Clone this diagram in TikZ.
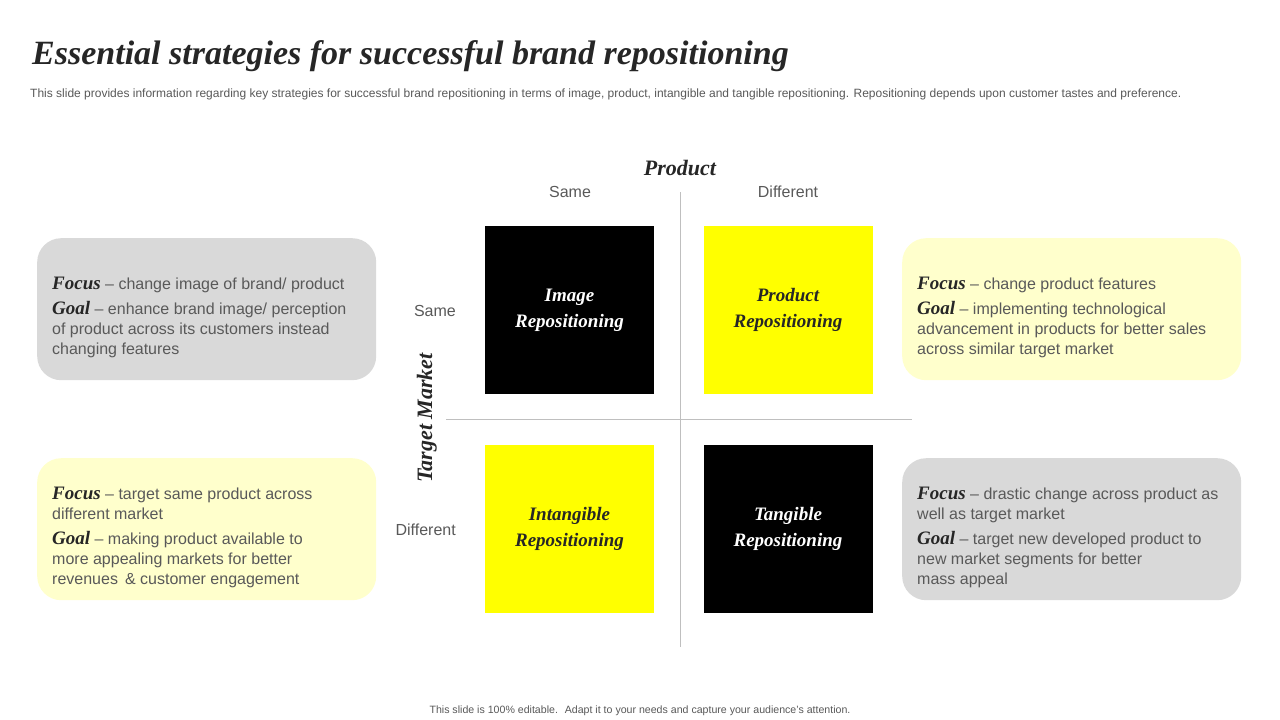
\documentclass[tikz,border=0pt]{standalone}
\usepackage{fontspec}
\setmainfont{Liberation Serif}
\setsansfont{Liberation Sans}
\definecolor{txt}{HTML}{595959}
\definecolor{ttl}{HTML}{262626}
\definecolor{boxgray}{HTML}{D9D9D9}
\definecolor{boxyel}{HTML}{FFFFCC}
\definecolor{sqyel}{HTML}{FFFF00}
\definecolor{axisc}{HTML}{BFBFBF}
\newcommand{\kw}[1]{{\rmfamily\fontsize{19}{20}\selectfont\bfseries\itshape\color{ttl}#1}}
\newcommand{\sqtext}[2]{\raisebox{-6pt}{\begin{tabular}{@{}c@{}}#1\\[3pt]#2\end{tabular}}}
\begin{document}
\begin{tikzpicture}[x=1pt,y=-1pt,
  sq/.style={minimum width=169pt, minimum height=168pt, inner sep=0pt, align=center,
    font=\fontsize{19}{23}\selectfont\bfseries\itshape},
  info/.style={rounded corners=24pt, minimum width=339pt, minimum height=142pt, inner sep=0pt, anchor=north west},
  infotext/.style={anchor=base west, inner sep=0pt, align=left, text=txt,
    font=\sffamily\fontsize{16}{20}\selectfont},
  axislbl/.style={font=\sffamily\fontsize{16}{18}\selectfont, text=txt, inner sep=0pt},
  head/.style={font=\fontsize{22}{24}\selectfont\bfseries\itshape, text=ttl, inner sep=0pt},
  axisline/.style={draw=axisc, line width=0.9pt}
]
\useasboundingbox (0,0) rectangle (1280,720);
\fill[white] (0,0) rectangle (1280,720);

% title
\node[anchor=base west, inner sep=0pt, text=ttl, font=\fontsize{34}{36}\selectfont\bfseries\itshape] (title) at (32,64) {Essential strategies for successful brand repositioning};
\node[anchor=base west, inner sep=0pt, text=txt, font=\sffamily\fontsize{12}{13}\selectfont] (sub) at (30,97) {This slide provides information regarding key strategies for successful brand repositioning in terms of image, product, intangible and tangible repositioning. Repositioning depends upon customer tastes and preference.};

% axes
\coordinate (vt) at (680,192);
\coordinate (vb) at (680,647);
\coordinate (hl) at (446,419);
\coordinate (hr) at (912,419);
\draw[axisline] (vt) -- (vb);
\draw[axisline] (hl) -- (hr);

% axis labels
\node[head, anchor=base] (prod) at (680,175) {Product};
\node[axislbl, anchor=base] (csame) at (570,197) {Same};
\node[axislbl, anchor=base] (cdiff) at (788,197) {Different};
\node[axislbl, anchor=base east] (rsame) at (456,316) {Same};
\node[axislbl, anchor=base east] (rdiff) at (456,535) {Different};
\node[head, rotate=90, anchor=base] (tm) at (432,418) {Target Market};

% squares
\node[sq, fill=black, text=white] (img) at (569.5,310) {\sqtext{Image}{Repositioning}};
\node[sq, fill=sqyel, text=ttl] (prd) at (788,310) {\sqtext{Product}{Repositioning}};
\node[sq, fill=sqyel, text=ttl] (int) at (569.5,529) {\sqtext{Intangible}{Repositioning}};
\node[sq, fill=black, text=white] (tan) at (788,529) {\sqtext{Tangible}{Repositioning}};

% info boxes
\node[info, fill=boxgray] (b1) at (37,238) {};
\node[info, fill=boxyel] (b2) at (37,458) {};
\node[info, fill=boxyel] (b3) at (902,238) {};
\node[info, fill=boxgray] (b4) at (902,458) {};

\node[infotext] (t1) at (52,354) {\kw{Focus} -- change image of brand/ product\\[5pt]
\kw{Goal} -- enhance brand image/ perception\\of product across its customers instead\\changing features};
\node[infotext] (t2) at (52,584) {\kw{Focus} -- target same product across\\different market\\[5pt]
\kw{Goal} -- making product available to\\more appealing markets for better\\revenues \,\& customer engagement};
\node[infotext] (t3) at (917,354) {\kw{Focus} -- change product features\\[5pt]
\kw{Goal} -- implementing technological\\advancement in products for better sales\\across similar target market};
\node[infotext] (t4) at (917,584) {\kw{Focus} -- drastic change across product as\\well as target market\\[5pt]
\kw{Goal} -- target new developed product to\\new market segments for better\\mass appeal};

% footer
\node[anchor=base, inner sep=0pt, text=txt, font=\sffamily\fontsize{10.6}{12}\selectfont] (foot) at (640,713) {This slide is 100\% editable. \ Adapt it to your needs and capture your audience's attention.};
\end{tikzpicture}
\end{document}
